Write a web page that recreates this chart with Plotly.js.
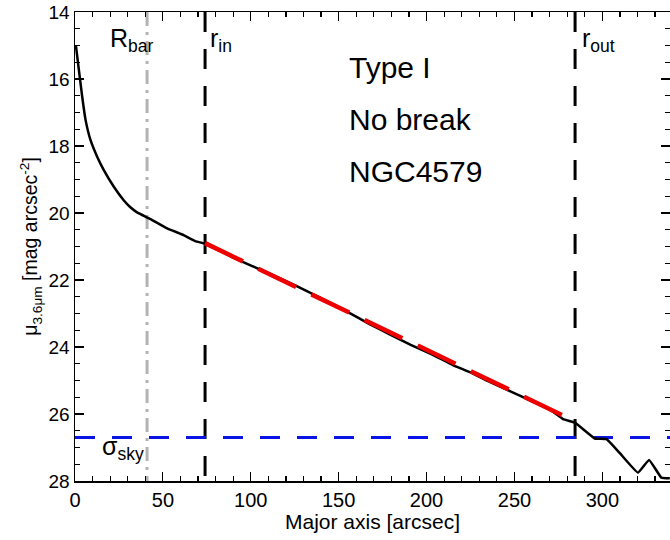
<!DOCTYPE html>
<html><head><meta charset="utf-8">
<script src="https://cdn.plot.ly/plotly-3.0.1.min.js"></script>
<style>html,body{margin:0;padding:0;background:#fff}</style>
</head><body><div id="chart" style="width:670px;height:540px"></div>
<script>
// Surface-brightness profile
const radius = [0.5, 2.2, 4.1, 6, 8.8, 12.6, 16.4, 22, 27.7, 31.5, 35.3, 42.9, 52.4, 61.8, 68.5, 74.1,
  90, 111, 125, 140, 155, 167, 179, 191, 203, 215, 225, 235, 248, 260, 270, 277.7, 284.4,
  295.7, 302.4, 310, 320.3, 326.6, 333.6, 338.4];
const mu = [15.0, 15.73, 16.53, 17.22, 17.82, 18.32, 18.72, 19.21, 19.62, 19.83, 19.98, 20.18, 20.46, 20.66, 20.84, 20.92,
  21.33, 21.82, 22.15, 22.55, 22.95, 23.30, 23.62, 23.94, 24.22, 24.54, 24.76, 25.02, 25.33, 25.62, 25.86, 26.15, 26.26,
  26.73, 26.75, 27.17, 27.75, 27.37, 27.90, 27.92];
// Linear disc fit
const fitX = [74, 277];
const fitY = [20.90, 26.03];
// Markers
const rBar = 41;
const rIn = 74;
const rOut = 284.5;
const muSky = 26.7;
const yRange = [28, 14];
const xRange = [0, 338.5];

const traces = [
  {x:[rBar, rBar], y:[yRange[1], yRange[0]], mode:'lines', line:{color:'#b3b3b3', width:3, dash:'14px,6px,3px,6px'}},
  {x:[rIn, rIn], y:[yRange[1], yRange[0]], mode:'lines', line:{color:'#000', width:3, dash:'20px,17px'}},
  {x:[rOut, rOut], y:[yRange[1], yRange[0]], mode:'lines', line:{color:'#000', width:3, dash:'20px,17px'}},
  {x:[xRange[0], xRange[1]], y:[muSky, muSky], mode:'lines', line:{color:'#0a14e6', width:3, dash:'20px,17px'}},
  {x:radius, y:mu, mode:'lines', line:{color:'#000', width:2.5, shape:'spline', smoothing:0.3}},
  {x:fitX, y:fitY, mode:'lines', line:{color:'#ee0000', width:4.5, dash:'42px,17px'}}
];

const fnt = {family:'Liberation Sans, Arial, sans-serif', color:'#000'};
const F = s => Object.assign({size:s}, fnt);
const layout = {
  width:670, height:540,
  margin:{l:74.5, r:0, t:12, b:59},
  showlegend:false,
  paper_bgcolor:'#fff', plot_bgcolor:'#fff',
  font:F(19),
  xaxis:{range:xRange, showgrid:false, zeroline:false, showline:true, linecolor:'#000', linewidth:1.5,
    mirror:'allticks', ticks:'inside', ticklen:9, tickwidth:1.2, tickcolor:'#000', dtick:50, tick0:0,
    minor:{dtick:10, ticks:'inside', ticklen:5, tickcolor:'#000', tickwidth:1.2},
    tickfont:F(20),
    title:{text:'Major axis [arcsec]', font:F(21), standoff:2}},
  yaxis:{range:yRange, showgrid:false, zeroline:false, showline:true, linecolor:'#000', linewidth:1.5,
    mirror:'allticks', ticks:'inside', ticklen:9, tickwidth:1.2, tickcolor:'#000', dtick:2, tick0:14,
    minor:{dtick:0.5, ticks:'inside', ticklen:5, tickcolor:'#000', tickwidth:1.2},
    tickfont:F(19),
    title:{text:'μ<sub>3.6μm</sub> [mag arcsec<sup>-2</sup>]', font:F(19.5), standoff:5}},
  annotations:[
    {x:19, y:14.85, xref:'x', yref:'y', text:'R<sub>bar</sub>', showarrow:false, xanchor:'left', yanchor:'middle', font:F(25)},
    {x:75.5, y:14.85, xref:'x', yref:'y', text:'r<sub>in</sub>', showarrow:false, xanchor:'left', yanchor:'middle', font:F(25)},
    {x:287.5, y:14.85, xref:'x', yref:'y', text:'r<sub>out</sub>', showarrow:false, xanchor:'left', yanchor:'middle', font:F(25)},
    {x:14.5, y:27.0, xref:'x', yref:'y', text:'σ<sub>sky</sub>', showarrow:false, xanchor:'left', yanchor:'middle', font:F(25)},
    {x:154.5, y:15.65, xref:'x', yref:'y', text:'Type I', showarrow:false, xanchor:'left', yanchor:'middle', font:F(30)},
    {x:154.5, y:17.2, xref:'x', yref:'y', text:'No break', showarrow:false, xanchor:'left', yanchor:'middle', font:F(30)},
    {x:154.5, y:18.75, xref:'x', yref:'y', text:'NGC4579', showarrow:false, xanchor:'left', yanchor:'middle', font:F(30)}
  ]
};
Plotly.newPlot('chart', traces, layout, {displayModeBar:false, staticPlot:true});
</script></body></html>
